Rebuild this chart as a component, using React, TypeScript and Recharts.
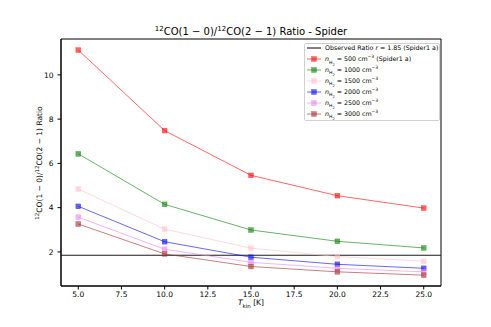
import React from 'react';
import { LineChart, Line, XAxis, YAxis, ReferenceLine, ReferenceArea } from 'recharts';

const tkin = [5, 10, 15, 20, 25];
const n500 = [11.12, 7.48, 5.46, 4.54, 3.98];
const n1000 = [6.43, 4.15, 2.99, 2.48, 2.18];
const n1500 = [4.84, 3.03, 2.17, 1.79, 1.58];
const n2000 = [4.06, 2.46, 1.76, 1.44, 1.26];
const n2500 = [3.57, 2.12, 1.53, 1.26, 1.1];
const n3000 = [3.26, 1.91, 1.34, 1.1, 0.95];
const observed = 1.85;
const xTicks = [5, 7.5, 10, 12.5, 15, 17.5, 20, 22.5, 25];
const yTicks = [2, 4, 6, 8, 10];

const series = [
  { key: 'n500', values: n500, color: '#ff0000', dens: '500', extra: ' (Spider1 a)' },
  { key: 'n1000', values: n1000, color: '#008000', dens: '1000', extra: '' },
  { key: 'n1500', values: n1500, color: '#ffc0cb', dens: '1500', extra: '' },
  { key: 'n2000', values: n2000, color: '#0000ff', dens: '2000', extra: '' },
  { key: 'n2500', values: n2500, color: '#ee82ee', dens: '2500', extra: '' },
  { key: 'n3000', values: n3000, color: '#a52a2a', dens: '3000', extra: '' },
];

const data = tkin.map((t, i) => {
  const row: any = { t };
  series.forEach((s) => (row[s.key] = s.values[i]));
  return row;
});

const FONT = '"DejaVu Sans", sans-serif';
const X_DOMAIN: [number, number] = [4, 26];
const Y_DOMAIN: [number, number] = [0.46, 11.62];

const makeDot = (color: string) => (props: any) => {
  const { cx, cy, index } = props;
  if (cx == null || cy == null) return <g key={index} />;
  return (
    <rect
      key={index}
      x={cx - 2.4}
      y={cy - 2.4}
      width={4.8}
      height={4.8}
      fill={color}
      fillOpacity={0.6}
      stroke={color}
      strokeOpacity={0.6}
      strokeWidth={0.5}
    />
  );
};

export default function App() {
  return (
    <div style={{ position: 'absolute', left: 0, top: 0, width: 491, height: 327, background: '#fff', fontFamily: FONT }}>
      <LineChart width={491} height={327} data={data} margin={{ top: 39, right: 50, bottom: 0, left: 0 }}>
        <XAxis
          dataKey="t"
          type="number"
          domain={X_DOMAIN}
          ticks={xTicks}
          tickFormatter={(v: number) => v.toFixed(1)}
          height={41}
          tickSize={3.5}
          tickMargin={2}
          stroke="#000"
          tick={{ fill: '#000', fontSize: 7.5, fontFamily: FONT }}
          allowDataOverflow
        />
        <YAxis
          type="number"
          domain={Y_DOMAIN}
          ticks={yTicks}
          width={61}
          tickSize={3.5}
          tickMargin={4}
          stroke="#000"
          tick={{ fill: '#000', fontSize: 7.5, fontFamily: FONT }}
          allowDataOverflow
        />
        <ReferenceArea x1={X_DOMAIN[0]} x2={X_DOMAIN[1]} y1={Y_DOMAIN[0]} y2={Y_DOMAIN[1]} fill="none" fillOpacity={0} stroke="#000" strokeWidth={1} ifOverflow="extendDomain" />
        <ReferenceLine y={observed} stroke="#1a1a1a" strokeWidth={1.1} />
        {series.map((s) => (
          <Line
            key={s.key}
            dataKey={s.key}
            stroke={s.color}
            strokeOpacity={0.6}
            strokeWidth={1}
            dot={makeDot(s.color)}
            activeDot={false}
            isAnimationActive={false}
            type="linear"
          />
        ))}
      </LineChart>

      <div style={{ position: 'absolute', left: 61, width: 380, top: 25, textAlign: 'center', fontSize: 10, lineHeight: '14px', color: '#000', whiteSpace: 'nowrap' }}>
        <sup style={{ fontSize: 7, lineHeight: 0 }}>12</sup>CO(1 − 0)/<sup style={{ fontSize: 7, lineHeight: 0 }}>12</sup>CO(2 − 1) Ratio - Spider
      </div>

      <div style={{ position: 'absolute', left: 61, width: 380, top: 298, textAlign: 'center', fontSize: 7.5, lineHeight: '10px', color: '#000', whiteSpace: 'nowrap' }}>
        <i>T</i>
        <sub style={{ fontSize: 5.5, lineHeight: 0 }}>kin</sub> [K]
      </div>

      <div
        style={{
          position: 'absolute',
          left: 40 - 80,
          top: 163 - 6,
          width: 160,
          height: 12,
          textAlign: 'center',
          fontSize: 7.5,
          lineHeight: '12px',
          transform: 'rotate(-90deg)',
          transformOrigin: '50% 50%',
          whiteSpace: 'nowrap',
          color: '#000',
        }}
      >
        <sup style={{ fontSize: 5.5, lineHeight: 0 }}>12</sup>CO(1 − 0)/<sup style={{ fontSize: 5.5, lineHeight: 0 }}>12</sup>CO(2 − 1) Ratio
      </div>

      <div
        style={{
          position: 'absolute',
          left: 304,
          top: 42.5,
          width: 134,
          height: 76,
          border: '1px solid #d0d0d0',
          borderRadius: 2,
          background: 'rgba(255,255,255,0.8)',
          fontSize: 6.3,
          color: '#000',
        }}
      >
        <div style={{ display: 'flex', alignItems: 'center', height: 10.9, marginTop: -0.5 }}>
          <svg width={20} height={8} style={{ flex: 'none' }}>
            <line x1={2} x2={16} y1={4} y2={4} stroke="#1a1a1a" strokeWidth={1.1} />
          </svg>
          <span style={{ whiteSpace: 'nowrap', lineHeight: '10px' }}>
            Observed Ratio <i>r</i> = 1.85 (Spider1 a)
          </span>
        </div>
        {series.map((s) => (
          <div key={s.key} style={{ display: 'flex', alignItems: 'center', height: 10.9 }}>
            <svg width={20} height={8} style={{ flex: 'none' }}>
              <line x1={2} x2={16} y1={4} y2={4} stroke={s.color} strokeOpacity={0.6} strokeWidth={1} />
              <rect x={6.6} y={1.6} width={4.8} height={4.8} fill={s.color} fillOpacity={0.6} stroke={s.color} strokeOpacity={0.6} strokeWidth={0.5} />
            </svg>
            <span style={{ whiteSpace: 'nowrap', lineHeight: '10px' }}>
              <i>n</i>
              <sub style={{ fontSize: 4.5, lineHeight: 0 }}>
                H<sub style={{ fontSize: 3.5, lineHeight: 0 }}>2</sub>
              </sub>
              {' = '}
              {s.dens} cm<sup style={{ fontSize: 4.5, lineHeight: 0 }}>−3</sup>
              {s.extra}
            </span>
          </div>
        ))}
      </div>
    </div>
  );
}
